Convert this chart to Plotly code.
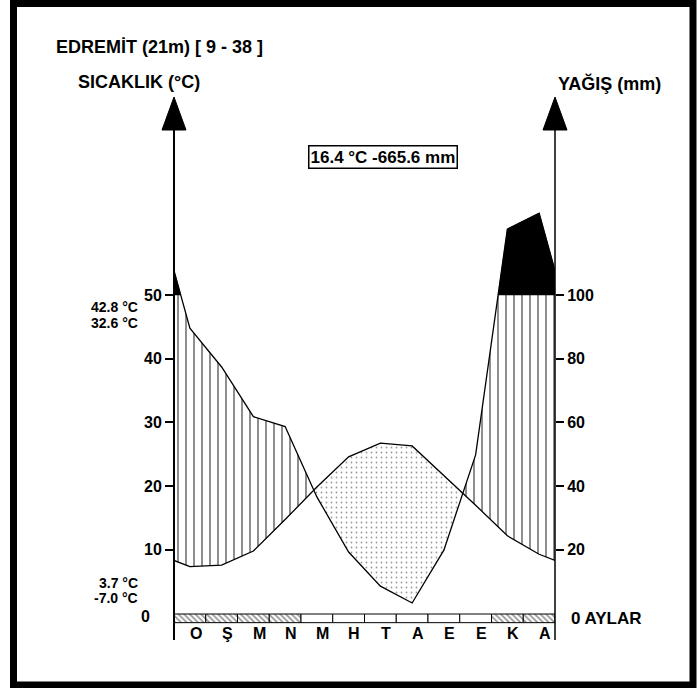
import numpy as np
import plotly.graph_objects as go

# ---------------- data ----------------
months = ["O", "Ş", "M", "N", "M", "H", "T", "A", "E", "E", "K", "A"]
temp = [7.35, 7.6, 9.8, 14.75, 19.85, 24.6, 26.75, 26.3, 21.7, 17.0, 12.2, 9.3]        # °C
precip = [89.6, 77.4, 61.8, 58.7, 36.6, 19.3, 8.6, 3.3, 19.9, 49.8, 120.7, 125.7]     # mm
frost = [1, 1, 1, 1, 0, 0, 0, 0, 0, 0, 1, 1]
temp_ticks = [10, 20, 30, 40, 50]
precip_ticks = [20, 40, 60, 80, 100]
station = "EDREMİT (21m) [ 9 - 38 ]"
summary = "16.4 °C -665.6 mm"
extremes_top = ["42.8 °C", "32.6 °C"]
extremes_bottom = ["3.7 °C", "-7.0 °C"]

# ---------------- geometry ----------------
W, H = 697, 688
ML, MR, MT, MB = 174, 142, 95, 43
PW, PH = W - ML - MR, H - MT - MB
Y0PX, PXU = 613.5, 6.37            # pixel of 0 °C, pixels per °C
yr = [-(H - MB - Y0PX) / PXU, (Y0PX - MT) / PXU]
FONT = "Liberation Sans, Arial, sans-serif"


def xp(px):
    return (px - ML) / PW


def yp(py):
    return (H - MB - py) / PH


# curves: monthly points at month centres, edges = mean of Dec/Jan
xs = [0.0] + [i + 0.5 for i in range(12)] + [12.0]
eT = (temp[0] + temp[-1]) / 2
eQ = (precip[0] + precip[-1]) / 4
tt = [eT] + list(temp) + [eT]
qq = [eQ] + [p / 2 for p in precip] + [eQ]

xr = list(xs)
for i in range(len(xs) - 1):
    for d0, d1 in ((qq[i] - tt[i], qq[i + 1] - tt[i + 1]), (qq[i] - 50, qq[i + 1] - 50)):
        if d0 * d1 < 0:
            xr.append(xs[i] + (xs[i + 1] - xs[i]) * d0 / (d0 - d1))
xr = np.array(sorted(set(xr)))
TT = np.interp(xr, xs, tt)
QQ = np.interp(xr, xs, qq)
mids = (xr[:-1] + xr[1:]) / 2
Tm = np.interp(mids, xs, tt)
Qm = np.interp(mids, xs, qq)


def runs(flags):
    res, start = [], None
    for j, f in enumerate(flags):
        if f and start is None:
            start = j
        if not f and start is not None:
            res.append((start, j))
            start = None
    if start is not None:
        res.append((start, len(flags)))
    return res


fig = go.Figure()

# month bar
fig.add_trace(go.Bar(
    x=[i + 0.5 for i in range(12)], y=[1.36] * 12, base=[-1.44] * 12, width=1,
    marker=dict(color="white", line=dict(color="black", width=1),
                pattern=dict(shape=["\\" if f else "" for f in frost], fgcolor="#222222",
                             bgcolor="white", size=4, solidity=0.4)),
    showlegend=False, hoverinfo="skip"))

# humid (vertical hatch)
for s, e in runs(Qm > Tm):
    up = np.minimum(QQ[s:e + 1], 50)
    lo = TT[s:e + 1]
    fig.add_trace(go.Scatter(
        x=list(xr[s:e + 1]) + list(xr[s:e + 1][::-1]), y=list(up) + list(lo[::-1]),
        fill="toself", mode="lines", line=dict(width=0), fillcolor="white",
        fillpattern=dict(shape="|", fgcolor="black", bgcolor="white", size=8, solidity=0.22),
        showlegend=False, hoverinfo="skip"))

# arid (dots)
for s, e in runs(Tm > Qm):
    fig.add_trace(go.Scatter(
        x=list(xr[s:e + 1]) + list(xr[s:e + 1][::-1]),
        y=list(TT[s:e + 1]) + list(QQ[s:e + 1][::-1]),
        fill="toself", mode="lines", line=dict(width=0), fillcolor="white",
        fillpattern=dict(shape=".", fgcolor="#333333", bgcolor="white", size=5, solidity=0.1),
        showlegend=False, hoverinfo="skip"))

# very humid (> 100 mm, black)
for s, e in runs(Qm > 50):
    fig.add_trace(go.Scatter(
        x=list(xr[s:e + 1]) + list(xr[s:e + 1][::-1]),
        y=list(QQ[s:e + 1]) + [50] * (e - s + 1),
        fill="toself", mode="lines", line=dict(width=0.5, color="black"), fillcolor="black",
        showlegend=False, hoverinfo="skip"))

# curves
fig.add_trace(go.Scatter(x=xs, y=tt, mode="lines", line=dict(color="black", width=1.3),
                         showlegend=False, hoverinfo="skip"))
fig.add_trace(go.Scatter(x=xs, y=qq, mode="lines", line=dict(color="black", width=1.3),
                         showlegend=False, hoverinfo="skip"))
fig.add_trace(go.Scatter(x=[0], y=[precip_ticks[0]], yaxis="y2", mode="markers",
                         marker=dict(opacity=0), showlegend=False, hoverinfo="skip"))

tickfont = dict(family=FONT, size=16, color="black", weight="bold")
fig.update_layout(
    width=W, height=H, margin=dict(l=ML, r=MR, t=MT, b=MB),
    paper_bgcolor="white", plot_bgcolor="rgba(0,0,0,0)", barmode="overlay",
    xaxis=dict(range=[0, 12], visible=False, fixedrange=True),
    yaxis=dict(range=yr, tickvals=temp_ticks, ticks="outside", ticklen=8, tickwidth=1.5,
               tickcolor="black", showgrid=False, zeroline=False, showline=False,
               tickfont=tickfont),
    yaxis2=dict(range=[2 * yr[0], 2 * yr[1]], overlaying="y", side="right",
                tickvals=precip_ticks, ticks="outside", ticklen=8, tickwidth=1.5,
                tickcolor="black", showgrid=False, zeroline=False, showline=False,
                tickfont=tickfont),
)

shapes = []
# axis lines
shapes.append(dict(type="line", xref="paper", yref="paper", x0=0, x1=0, y0=yp(130), y1=yp(640),
                   line=dict(color="black", width=2)))
shapes.append(dict(type="line", xref="paper", yref="paper", x0=1, x1=1, y0=yp(130), y1=yp(640),
                   line=dict(color="black", width=1.5)))
# arrows
for cx in (ML, W - MR):
    path = "M{},{} L{},{} L{},{} Z".format(xp(cx), yp(97), xp(cx - 12), yp(130), xp(cx + 12), yp(130))
    shapes.append(dict(type="path", xref="paper", yref="paper", path=path,
                       fillcolor="black", line=dict(color="black", width=1)))
# frame
shapes.append(dict(type="rect", xref="paper", yref="paper", x0=xp(13.5), x1=xp(693),
                   y0=yp(3.5), y1=yp(685), line=dict(color="black", width=7)))
fig.update_layout(shapes=shapes)

ann = []


def txt(text, px, py, xanchor="left", size=16, **kw):
    ann.append(dict(text=text, x=xp(px), y=yp(py), xref="paper", yref="paper",
                    xanchor=xanchor, yanchor="middle", showarrow=False,
                    font=dict(family=FONT, size=size, color="black", weight="bold"), **kw))


txt(station, 54, 47, size=18)
txt("SICAKLIK (°C)", 76, 82, size=18)
txt("YAĞIŞ (mm)", 556, 84, size=18)
txt(summary, 383, 157, xanchor="center", size=17,
    bordercolor="black", borderwidth=1.5, borderpad=1, bgcolor="white")
txt(extremes_top[0], 140, 306.5, xanchor="right", size=14)
txt(extremes_top[1], 140, 322.5, xanchor="right", size=14)
txt(extremes_bottom[0], 140, 582.5, xanchor="right", size=14)
txt(extremes_bottom[1], 140, 598, xanchor="right", size=14)
txt("0", 152, 616, xanchor="right", size=16)
txt("0 AYLAR", 569, 618, size=17)

for i, m in enumerate(months):
    ann.append(dict(text=m, x=i + 0.5 + 0.18, y=yp(633), xref="x", yref="paper",
                    xanchor="center", yanchor="middle", showarrow=False,
                    font=dict(family=FONT, size=16, color="black", weight="bold")))
fig.update_layout(annotations=ann)

fig.write_html("out.html", config={"displayModeBar": False},
               post_script="document.body.style.margin='0';")
